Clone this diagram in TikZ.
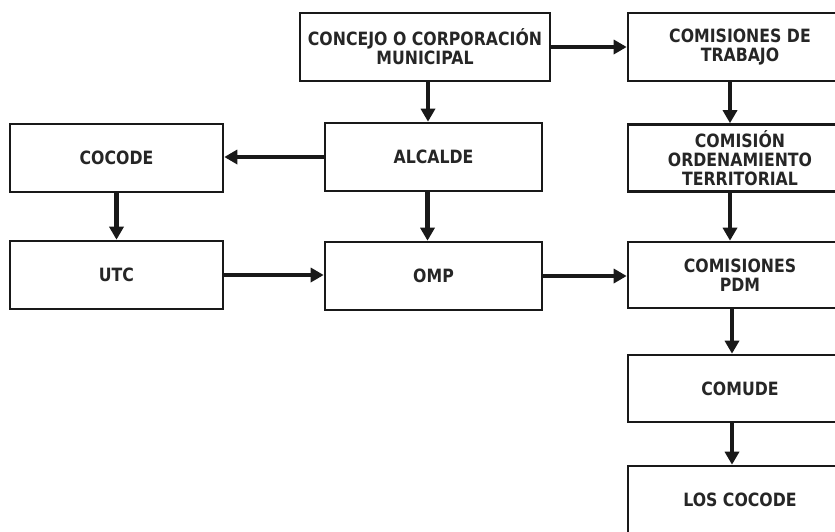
\documentclass[tikz,border=0pt]{standalone}
\usepackage{fontspec}
\setmainfont{DejaVu Sans}[FakeStretch=0.86]
\usetikzlibrary{arrows.meta}

\begin{document}
\begin{tikzpicture}[x=1pt, y=-1pt,
        caja/.style={draw=black!90, line width=2.6pt, fill=white, inner sep=0pt, align=center,
            font=\bfseries\fontsize{18.3}{19}\selectfont, text=black!85,
            minimum width=217pt, minimum height=68pt},
        flecha/.style={draw=black!90, line width=4.6pt, -{Triangle[length=13pt, width=14pt]}}]
        \useasboundingbox (0,0) rectangle (835,531);
        \clip (0,0) rectangle (835,531);
        \fill[white] (0,0) rectangle (835,531);
        % columna izquierda
        \node[caja, minimum width=213pt] (cocode) at (116.5,158) {COCODE};
        \node[caja, minimum width=213pt] (utc) at (116.5,275) {UTC};
        % columna central
        \node[caja, minimum width=250pt] (concejo) at (425,47) {CONCEJO O CORPORACIÓN\\MUNICIPAL};
        \node[caja] (alcalde) at (433.5,157) {ALCALDE};
        \node[caja] (omp) at (433.5,276) {OMP};
        % columna derecha (cortada por el borde)
        \node[caja, minimum width=224pt] (trabajo) at (740,47) {COMISIONES DE\\TRABAJO};
        \node[caja, minimum width=224pt, minimum height=67pt] (ordenamiento) at (740,158) {COMISIÓN\\ORDENAMIENTO\\TERRITORIAL};
        \node[caja, minimum width=224pt, minimum height=66pt] (pdm) at (740,275) {COMISIONES\\PDM};
        \node[caja, minimum width=224pt, minimum height=67pt] (comude) at (740,388.5) {COMUDE};
        \node[caja, minimum width=224pt, minimum height=67pt] (loscocode) at (740,499.5) {LOS COCODE};

        \draw[flecha] (concejo) -- (trabajo);
        \draw[flecha] ([xshift=3]concejo.south) -- ([xshift=3]concejo.south |- alcalde.north);
        \draw[flecha] (alcalde.west) -- (alcalde.west -| cocode.east);
        \draw[flecha] (cocode) -- (utc);
        \draw[flecha] ([xshift=-6]alcalde.south) -- ([xshift=-6]omp.north);
        \draw[flecha] (utc.east) -- (utc.east -| omp.west);
        \draw[flecha] (omp.east) -- (omp.east -| pdm.west);
        \draw[flecha] ([xshift=-10]trabajo.south) -- ([xshift=-10]ordenamiento.north);
        \draw[flecha] ([xshift=-10]ordenamiento.south) -- ([xshift=-10]pdm.north);
        \draw[flecha] ([xshift=-8]pdm.south) -- ([xshift=-8]comude.north);
        \draw[flecha] ([xshift=-8]comude.south) -- ([xshift=-8]loscocode.north);
    \end{tikzpicture}
\end{document}
